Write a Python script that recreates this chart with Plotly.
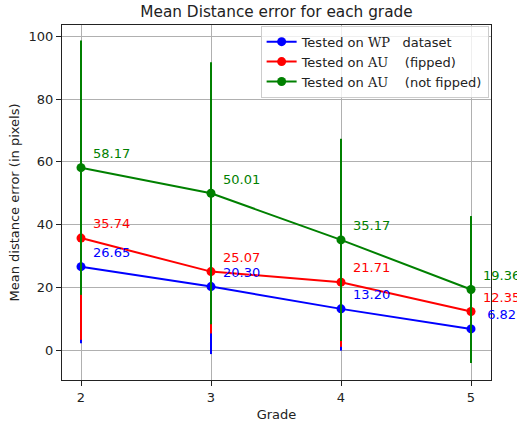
import plotly.graph_objects as go

grades = [2, 3, 4, 5]
wp_mean = [26.65, 20.30, 13.20, 6.82]
wp_err = [24.4, 21.5, 13.3, 6.0]
au_flip_mean = [35.74, 25.07, 21.71, 12.35]
au_flip_err = [32.4, 19.7, 20.6, 10.0]
au_noflip_mean = [58.17, 50.01, 35.17, 19.36]
au_noflip_err = [40.5, 41.7, 32.2, 23.4]

series = [
    ('Tested on <span style="font-family:DejaVu Serif">WP</span>   dataset', wp_mean, wp_err, "#0000ff"),
    ('Tested on <span style="font-family:DejaVu Serif">AU</span>    (fipped)', au_flip_mean, au_flip_err, "#ff0000"),
    ('Tested on <span style="font-family:DejaVu Serif">AU</span>    (not fipped)', au_noflip_mean, au_noflip_err, "#008000"),
]

fig = go.Figure()
annotations = []
for name, mean, err, color in series:
    fig.add_trace(go.Scatter(
        x=grades, y=mean, name=name, mode="lines+markers",
        line=dict(color=color, width=2),
        marker=dict(color=color, size=9),
        error_y=dict(type="data", array=err, visible=True, color=color, thickness=2, width=0),
    ))
    for g, v in zip(grades, mean):
        label = "{:5.2f}".format(v).replace(" ", "\u00a0")
        annotations.append(dict(
            x=g + 0.08, y=v + 1.5, xref="x", yref="y", text=label, showarrow=False,
            xanchor="left", yanchor="bottom", font=dict(color=color, size=13),
        ))

fig.update_layout(
    width=517, height=422,
    margin=dict(l=62, r=26, t=25, b=42),
    paper_bgcolor="white", plot_bgcolor="white",
    font=dict(family="DejaVu Sans", size=13, color="#222222"),
    title=dict(text="Mean Distance error for each grade", x=0.5, xref="paper", xanchor="center",
               y=0.972, yanchor="middle", font=dict(size=15.3, color="#222222")),
    annotations=annotations,
    showlegend=True,
    legend=dict(x=0.463, y=0.998, xanchor="left", yanchor="top",
                bgcolor="rgba(255,255,255,0.8)", bordercolor="#cccccc", borderwidth=1,
                font=dict(size=13), tracegroupgap=0, itemwidth=30),
)
fig.update_xaxes(
    range=[1.8538, 5.1538], tickvals=grades, ticktext=[str(g) for g in grades],
    showgrid=True, gridcolor="#b0b0b0", gridwidth=0.8,
    showline=True, linecolor="#222222", linewidth=1, mirror=True,
    ticks="outside", ticklen=5, tickcolor="#222222", zeroline=False, automargin=False,
    tickfont=dict(size=13),
    title=dict(text="Grade", standoff=6, font=dict(size=13)),
)
fig.update_yaxes(
    range=[-9.45, 103.6], tickvals=[0, 20, 40, 60, 80, 100],
    showgrid=True, gridcolor="#b0b0b0", gridwidth=0.8,
    showline=True, linecolor="#222222", linewidth=1, mirror=True,
    ticks="outside", ticklen=5, tickcolor="#222222", zeroline=False, automargin=False,
    tickfont=dict(size=13),
    title=dict(text="Mean distance error (in pixels)", standoff=6, font=dict(size=13)),
)
fig.write_html("out.html", config={"displayModeBar": False},
               post_script="document.body.style.margin='0';")
